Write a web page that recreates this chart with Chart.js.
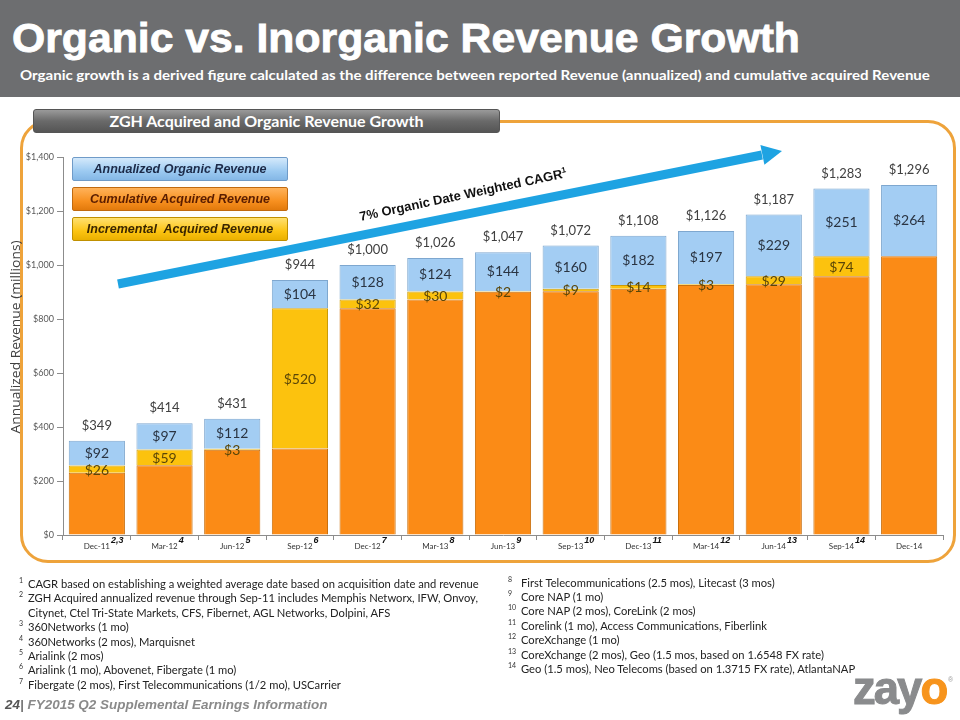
<!DOCTYPE html>
<html>
<head>
<meta charset="utf-8">
<script src="https://cdn.jsdelivr.net/npm/chart.js@4.4.1/dist/chart.umd.min.js"></script>
<style>
  html,body{margin:0;padding:0;}
  body{width:960px;height:720px;overflow:hidden;position:relative;background:#fff;font-family:Lato,"Open Sans",sans-serif;}
  .abs{position:absolute;white-space:nowrap;}
  .fit{display:inline-block;transform-origin:0 50%;}
  #header{left:0;top:0;width:960px;height:97px;background:#6d6e70;}
  #title{left:12px;top:16px;color:#fff;font:bold 40px "Liberation Sans",Arial,sans-serif;-webkit-text-stroke:0.8px #fff;}
  #subtitle{left:20px;top:67px;color:#fff;font:bold 13px Lato,sans-serif;}
  #frame{left:20px;top:120px;width:930px;height:437px;border:3px solid #eea33b;border-radius:28px;}
  #tab{left:33px;top:109px;width:465px;height:22px;background:linear-gradient(#9a9a9a,#6a6a6a 50%,#555);border:1px solid #555;border-radius:3px;color:#fff;font:bold 16px Lato,sans-serif;line-height:22px;text-align:center;}
  .leg{left:72px;width:214px;height:22px;border:1px solid;border-radius:2px;font:bold italic 12.5px "Liberation Sans",Arial,sans-serif;line-height:22px;text-align:center;}
  #ytitle{left:15px;top:337px;width:0;height:0;}
  #ytitle span{position:absolute;left:0;top:0;white-space:nowrap;color:#404040;font:13px "Open Sans",sans-serif;transform-origin:50% 50%;}
  #chartWrap{left:0;top:140px;}
  .fn{font:11.2px Lato,sans-serif;color:#222;}
  .sup{font:7px Lato,sans-serif;color:#333;}
  #footer{left:5px;top:697px;font:bold italic 13.5px "Liberation Sans",Arial,sans-serif;color:#8a8a8a;}
  #logo{left:853px;top:661px;font:900 46px "Liberation Sans",Arial,sans-serif;letter-spacing:-2px;color:#8a8b8d;-webkit-text-stroke:1px #8a8b8d;}
  #reg{left:948px;top:676px;font:7px Arial,sans-serif;color:#999;}
</style>
</head>
<body>
<div id="header" class="abs"></div>
<div id="title" class="abs"><span class="fit" data-w="788">Organic vs. Inorganic Revenue Growth</span></div>
<div id="subtitle" class="abs"><span class="fit" data-w="910">Organic growth is a derived figure calculated as the difference between reported Revenue (annualized) and cumulative acquired Revenue</span></div>

<div id="frame" class="abs"></div>
<div id="tab" class="abs">ZGH Acquired and Organic Revenue Growth</div>

<div id="chartWrap" class="abs"><canvas id="c" width="960" height="425"></canvas></div>

<div class="abs leg" style="top:157px;background:linear-gradient(#d4e9fb,#9ccaf1 60%,#84b7e6);border-color:#6f9bc8;color:#1c2a48;">Annualized Organic Revenue</div>
<div class="abs leg" style="top:187px;background:linear-gradient(#ffb25a,#f7901f 60%,#e27a0c);border-color:#c06a10;color:#5a1d00;">Cumulative Acquired Revenue</div>
<div class="abs leg" style="top:217px;background:linear-gradient(#ffe070,#fcc412 60%,#eab000);border-color:#c09000;color:#3a2600;">Incremental&nbsp; Acquired Revenue</div>

<svg class="abs" style="left:0;top:0;" width="960" height="720">
  <line x1="118" y1="284" x2="762" y2="155" stroke="#1ea3e2" stroke-width="9"/>
  <polygon points="782,151 764.4,164.7 760.4,145.1" fill="#1ea3e2"/>
  <text x="464" y="199" transform="rotate(-12 464 199)" text-anchor="middle" font-family="Liberation Sans, Arial, sans-serif" font-weight="bold" font-size="13" fill="#111">7% Organic Date Weighted CAGR<tspan font-size="8" dy="-5">1</tspan></text>
</svg>

<div id="ytitle" class="abs"><span id="ytitleText">Annualized Revenue (millions)</span></div>

<div id="footnotes"></div>

<div id="footer" class="abs"><span class="fit" data-w="322"><span style="color:#555">24</span><span style="color:#777">|</span> FY2015 Q2 Supplemental Earnings Information</span></div>
<div id="logo" class="abs"><span class="fit" data-w="93">zay<span style="color:#f7941d;-webkit-text-stroke:1px #f7941d;">o</span></span></div>
<div id="reg" class="abs">®</div>

<script>
// ---------- DATA ----------
const categories = ['Dec-11','Mar-12','Jun-12','Sep-12','Dec-12','Mar-13','Jun-13','Sep-13','Dec-13','Mar-14','Jun-14','Sep-14','Dec-14'];
const footnoteRefs = ['2,3','4','5','6','7','8','9','10','11','12','13','14',''];
const cumulativeAcquired = [231,258,316,320,840,872,901,903,912,926,929,958,1032];
const incrementalAcquired = [26,59,3,520,32,30,2,9,14,3,29,74,0];
const organicRevenue = [92,97,112,104,128,124,144,160,182,197,229,251,264];
const totalRevenue = [349,414,431,944,1000,1026,1047,1072,1108,1126,1187,1283,1296];
const yTickValues = [0,200,400,600,800,1000,1200,1400];

const leftNotes = [
  ['1','CAGR based on establishing a weighted average date based on acquisition date and revenue'],
  ['2','ZGH Acquired annualized revenue through Sep-11 includes Memphis Networx, IFW,  Onvoy,'],
  ['','Citynet, Ctel Tri-State Markets, CFS, Fibernet, AGL Networks, Dolpini, AFS'],
  ['3','360Networks (1 mo)'],
  ['4','360Networks (2 mos), Marquisnet'],
  ['5','Arialink (2 mos)'],
  ['6','Arialink (1 mo), Abovenet, Fibergate (1 mo)'],
  ['7','Fibergate (2 mos), First Telecommunications (1/2 mo), USCarrier']
];
const rightNotes = [
  ['8','First Telecommunications (2.5 mos), Litecast (3 mos)'],
  ['9','Core NAP (1 mo)'],
  ['10','Core NAP (2 mos), CoreLink (2 mos)'],
  ['11','Corelink (1 mo), Access Communications, Fiberlink'],
  ['12','CoreXchange (1 mo)'],
  ['13','CoreXchange (2 mos), Geo (1.5 mos, based on 1.6548 FX rate)'],
  ['14','Geo (1.5 mos), Neo Telecoms (based on 1.3715 FX rate), AtlantaNAP']
];

// ---------- footnotes ----------
(function(){
  const host = document.getElementById('footnotes');
  function add(list, supX, textX, y0){
    list.forEach((n,i)=>{
      const y = y0 + i*14.4;
      if(n[0]){
        const s=document.createElement('div');s.className='abs sup';s.style.left=supX+'px';s.style.top=(y-9)+'px';s.textContent=n[0];host.appendChild(s);
      }
      const t=document.createElement('div');t.className='abs fn';t.style.left=textX+'px';t.style.top=(y-8)+'px';t.textContent=n[1];host.appendChild(t);
    });
  }
  add(leftNotes, 19, 28, 585);
  add(rightNotes, 508, 521, 583.5);
})();

// ---------- fit text widths ----------
document.querySelectorAll('.fit').forEach(el=>{
  const w = parseFloat(el.dataset.w); const a = el.offsetWidth;
  if(a>0) el.style.transform = 'scaleX('+(w/a)+')';
});
(function(){
  const el = document.getElementById('ytitleText');
  const a = el.offsetWidth;
  el.style.transform = 'translate(-50%,-50%) rotate(-90deg) scaleX('+(193/a)+')';
})();

// ---------- chart ----------
const labelPlugin = {
  id:'labels',
  afterDatasetsDraw(chart){
    const ctx = chart.ctx;
    const mInc = chart.getDatasetMeta(1), mOrg = chart.getDatasetMeta(2);
    ctx.save();
    ctx.textAlign='center'; ctx.textBaseline='middle';
    categories.forEach((c,i)=>{
      const o = mOrg.data[i], inc = mInc.data[i];
      ctx.font = '13px Lato, sans-serif';
      ctx.fillStyle = '#404040';
      ctx.fillText('$'+totalRevenue[i].toLocaleString('en-US'), o.x, o.y-15);
      ctx.fillStyle = '#2a3442';
      ctx.font = '14px Lato, sans-serif';
      ctx.fillText('$'+organicRevenue[i], o.x, (o.y+o.base)/2);
      if(incrementalAcquired[i]>0){
        ctx.fillStyle = '#5a4608';
        ctx.fillText('$'+incrementalAcquired[i], inc.x, (inc.y+inc.base)/2+1);
      }
    });
    // footnote superscripts on x labels
    const xs = chart.scales.x;
    const tickLabelFont = '8px Lato, sans-serif';
    categories.forEach((c,i)=>{
      if(!footnoteRefs[i]) return;
      ctx.font = tickLabelFont;
      const lw = ctx.measureText(c).width;
      const x = xs.getPixelForValue(i) + lw/2 + 1;
      ctx.font = 'bold italic 9px "Liberation Sans", Arial, sans-serif';
      ctx.fillStyle = '#111';
      ctx.textAlign='left';
      ctx.fillText(footnoteRefs[i], x, chart.chartArea.bottom+6);
    });
    ctx.restore();
  }
};

new Chart(document.getElementById('c'), {
  type:'bar',
  data:{
    labels:categories,
    datasets:[
      {label:'Cumulative Acquired Revenue', data:cumulativeAcquired, backgroundColor:'#fb8b16', borderColor:'#c9700f', borderWidth:1},
      {label:'Incremental Acquired Revenue', data:incrementalAcquired, backgroundColor:'#fcc20e', borderColor:'#c99a08', borderWidth:1},
      {label:'Annualized Organic Revenue', data:organicRevenue, backgroundColor:'#a3cdf3', borderColor:'#7ea7cf', borderWidth:1}
    ]
  },
  options:{
    responsive:false, animation:false, devicePixelRatio:1,
    layout:{padding:{left:0,right:17,top:17,bottom:0}},
    plugins:{legend:{display:false}, tooltip:{enabled:false}},
    datasets:{bar:{barPercentage:0.83, categoryPercentage:1}},
    scales:{
      x:{stacked:true,
        grid:{display:true, offset:true, drawOnChartArea:false, tickLength:5, color:'#8c8c8c'},
        border:{color:'#8c8c8c'},
        ticks:{font:{family:'Lato', size:8}, color:'#333', padding:2, maxRotation:0, autoSkip:false},
        afterFit(s){ s.height = 30; }
      },
      y:{stacked:true, min:0, max:1400,
        afterBuildTicks(s){ s.ticks = yTickValues.map(v=>({value:v})); },
        grid:{display:true, drawOnChartArea:false, tickLength:6, color:'#8c8c8c'},
        border:{color:'#8c8c8c'},
        ticks:{font:{family:'Lato', size:9}, color:'#595959', padding:3,
          callback:v=>'$'+v.toLocaleString('en-US')},
        afterFit(s){ s.width = 63; }
      }
    }
  },
  plugins:[labelPlugin]
});
</script>
</body>
</html>
